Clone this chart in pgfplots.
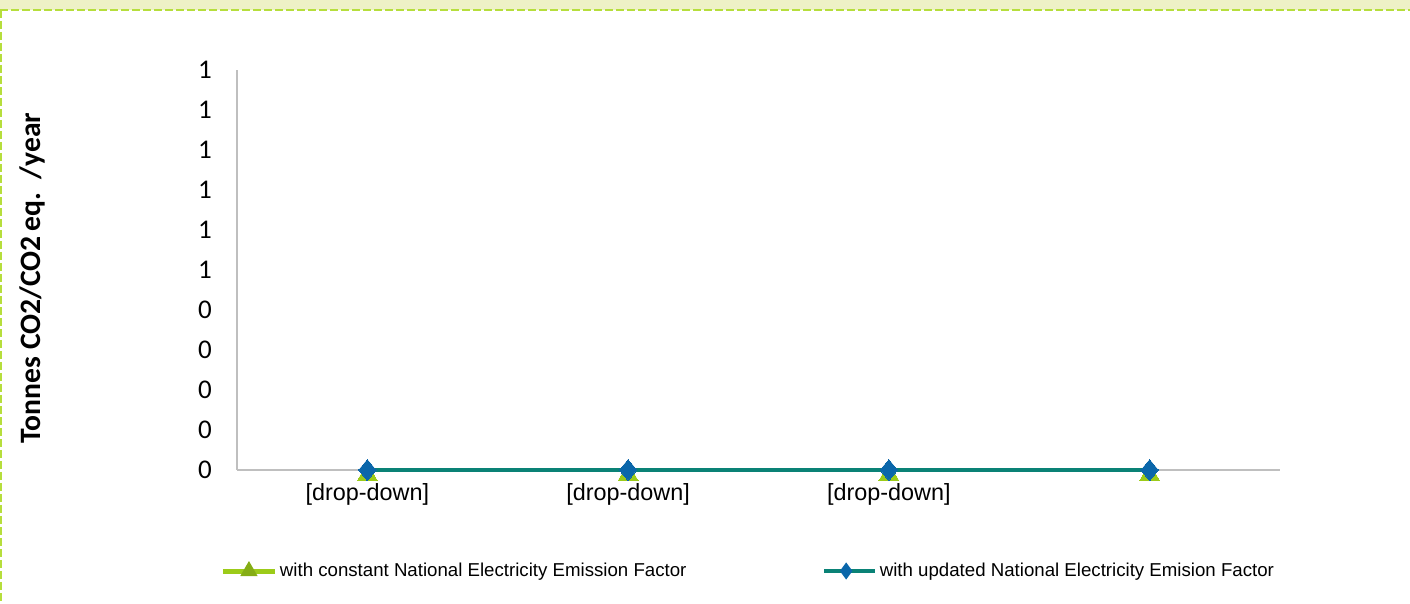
\documentclass[border=0pt]{standalone}
\usepackage{pgfplots}
\pgfplotsset{compat=1.18}
\usepackage{fontspec}
\setmainfont{Liberation Sans}
\newfontfamily\calibri{Carlito}
\definecolor{lgreen}{HTML}{9CCB19}
\definecolor{tealc}{HTML}{0A8276}
\definecolor{dblue}{HTML}{0A66AA}
\definecolor{bandc}{HTML}{EEF1C6}
\definecolor{borderc}{HTML}{B6DE3C}
\definecolor{axgray}{HTML}{BFBFBF}
\begin{document}
\begin{tikzpicture}
\useasboundingbox (0,0) rectangle (705pt,-302pt);
\fill[bandc] (0,0) rectangle (705pt,-5pt);
\draw[borderc, line width=0.8pt, dash pattern=on 4pt off 1.5pt] (0,-5pt) -- (705pt,-5pt);
\draw[borderc, line width=0.8pt, dash pattern=on 4pt off 1.5pt] (0.6pt,-5pt) -- (0.6pt,-302pt);
\begin{axis}[
  at={(118.5pt,-235pt)}, anchor=south west,
  width=521.5pt, height=200pt, scale only axis,
  xmin=0, xmax=4, ymin=0, ymax=1,
  axis x line*=bottom, axis y line*=left,
  axis line style={axgray, line width=0.6pt, -},
  major tick length=0pt,
  xtick={0.5,1.5,2.5,3.5},
  xticklabels={[drop-down],[drop-down],[drop-down],{}},
  ytick={0,0.1,0.2,0.3,0.4,0.5,0.6,0.7,0.8,0.9,1},
  yticklabels={0,0,0,0,0,1,1,1,1,1,1},
  yticklabel style={font=\calibri\fontsize{13.5}{15}\selectfont, anchor=east, xshift=-9pt},
  xticklabel style={font=\fontsize{11.7}{14}\selectfont, anchor=north, yshift=-3pt},
  ylabel={Tonnes CO2/CO2\,eq.\ \ /year},
  ylabel style={font=\calibri\bfseries\fontsize{14.8}{17}\selectfont, at={(axis description cs:-0.1966,0.48)}, anchor=center},
  clip=false,
  legend columns=2,
  legend style={at={(axis description cs:-0.022,-0.2525)}, anchor=west, draw=none, fill=none,
    font=\fontsize{9.33}{11}\selectfont,
    nodes={inner sep=1.25pt},
    /tikz/every even column/.append style={column sep=66.5pt},
    /tikz/every odd column/.append style={column sep=0pt}},
  legend cell align=left,
]
\addplot[color=lgreen, line width=2pt, mark=triangle*, mark size=5.8pt,
  mark options={fill=lgreen, draw=lgreen, line width=0pt, yshift=-2.5pt},
  legend image code/.code={
    \draw[lgreen, line width=2.5pt] (0pt,0pt) -- (26pt,0pt);
    \fill[lgreen!85!black] (13pt,0pt) ++(90:3pt) -- ++(-120:5.2pt) -- ++(0:5.2pt) -- cycle;
  }]
  coordinates {(0.5,0) (1.5,0) (2.5,0) (3.5,0)};
\addlegendentry{with constant National Electricity Emission Factor}
\addplot[color=tealc, line width=2pt, mark=diamond*, mark size=5.25pt,
  mark options={fill=dblue, draw=dblue, line width=0pt, xscale=1.1},
  legend image code/.code={
    \draw[tealc, line width=2.2pt] (0pt,0pt) -- (25.5pt,0pt);
    \fill[dblue] (11pt,0pt) ++(0,2.6pt) -- ++(1.9pt,-2.6pt) -- ++(-1.9pt,-2.6pt) -- ++(-1.9pt,2.6pt) -- cycle;
  }]
  coordinates {(0.5,0) (1.5,0) (2.5,0) (3.5,0)};
\addlegendentry{with updated National Electricity Emision Factor}
\end{axis}
\end{tikzpicture}
\end{document}
